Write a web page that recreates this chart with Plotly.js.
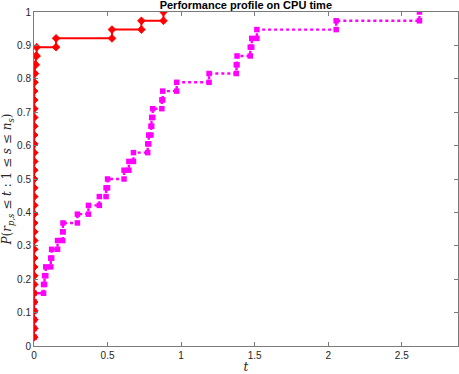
<!DOCTYPE html>
<html>
<head>
<meta charset="utf-8">
<script src="https://cdn.plot.ly/plotly-3.0.1.min.js"></script>
<style>html,body{margin:0;padding:0;background:#fff;}#chart{width:459px;height:374px;}</style>
</head>
<body>
<div id="chart"></div>
<script>
// Sorted performance ratios (log2 scale) for each solver, 38 problems
const problemCount = 38;
const redRatios = [0,0,0,0,0,0,0,0,0,0, 0,0,0,0,0,0,0,0,0,0, 0,0,0,0,0,0,0,0,0,0,
  0.002, 0.006, 0.012, 0.018, 0.15, 0.53, 0.73, 0.88];
const magentaRatios = [0,0,0,0,0,0, 0.065, 0.072, 0.08, 0.114, 0.12, 0.16, 0.195, 0.197,
  0.295, 0.37, 0.444, 0.49, 0.50, 0.612, 0.645, 0.676, 0.773, 0.78, 0.795, 0.80, 0.807,
  0.869, 0.875, 0.97, 1.19, 1.375, 1.38, 1.47, 1.48, 1.515, 2.054, 2.62];
const xTicks = [0, 0.5, 1, 1.5, 2, 2.5];
const yTicks = [0, 0.1, 0.2, 0.3, 0.4, 0.5, 0.6, 0.7, 0.8, 0.9, 1];

function stairs(r) {
  const n = r.length;
  const frac = r.map((_, i) => (i + 1) / problemCount);
  const X = [r[0]], Y = [frac[0]];
  for (let i = 1; i < n; i++) {
    X.push(r[i], r[i]);
    Y.push(frac[i - 1], frac[i]);
  }
  return {X, Y};
}
const red = stairs(redRatios);
const mag = stairs(magentaRatios);
const xMax = 1.1 * Math.max(...redRatios, ...magentaRatios);

const traces = [
  {x: mag.X, y: mag.Y, type: 'scatter', mode: 'lines+markers',
   line: {color: '#ff00ff', width: 2.4, dash: 'dot'},
   marker: {symbol: 'square', size: 5.5, color: '#ff00ff'}},
  {x: red.X, y: red.Y, type: 'scatter', mode: 'lines+markers',
   line: {color: '#ff0000', width: 2},
   marker: {symbol: 'diamond', size: 6, color: '#ff0000', line: {color: '#ff0000', width: 0.8}}}
];

const axisCommon = {
  showgrid: false, zeroline: false, showline: true, mirror: 'ticks',
  linecolor: '#7a7a7a', linewidth: 1, ticks: 'inside', ticklen: 4,
  tickcolor: '#7a7a7a', tickwidth: 1,
  tickfont: {family: 'Liberation Sans, Arial, sans-serif', size: 10, color: '#262626'}
};

const layout = {
  width: 459, height: 374,
  margin: {l: 34, r: 1, t: 12, b: 28},
  paper_bgcolor: '#fff', plot_bgcolor: '#fff',
  showlegend: false, hovermode: false,
  title: {text: '<b>Performance profile on CPU time</b>',
          font: {family: 'Liberation Sans, Arial, sans-serif', size: 11, color: '#000'},
          x: 0.5356, xanchor: 'center', xref: 'container',
          y: 1 - 1.5 / 374, yanchor: 'top', yref: 'container', pad: {t: 0, b: 0}},
  xaxis: Object.assign({}, axisCommon, {
    range: [0, xMax], tickvals: xTicks, ticktext: xTicks.map(String),
    title: {text: '<i>t</i>', standoff: 2,
            font: {family: 'DejaVu Serif, Liberation Serif, serif', size: 12, color: '#262626'}}
  }),
  yaxis: Object.assign({}, axisCommon, {
    range: [0, 1], tickvals: yTicks, ticktext: yTicks.map(String),
    title: {text: '<i>P</i>(<i>r</i><sub><i>p,s</i></sub> ≤ <i>t</i> : 1 ≤ <i>s</i> ≤ <i>n</i><sub><i>s</i></sub>)',
            standoff: 4,
            font: {family: 'DejaVu Serif, Liberation Serif, serif', size: 12, color: '#262626'}}
  })
};

Plotly.newPlot('chart', traces, layout, {staticPlot: true, displayModeBar: false});
</script>
</body>
</html>
